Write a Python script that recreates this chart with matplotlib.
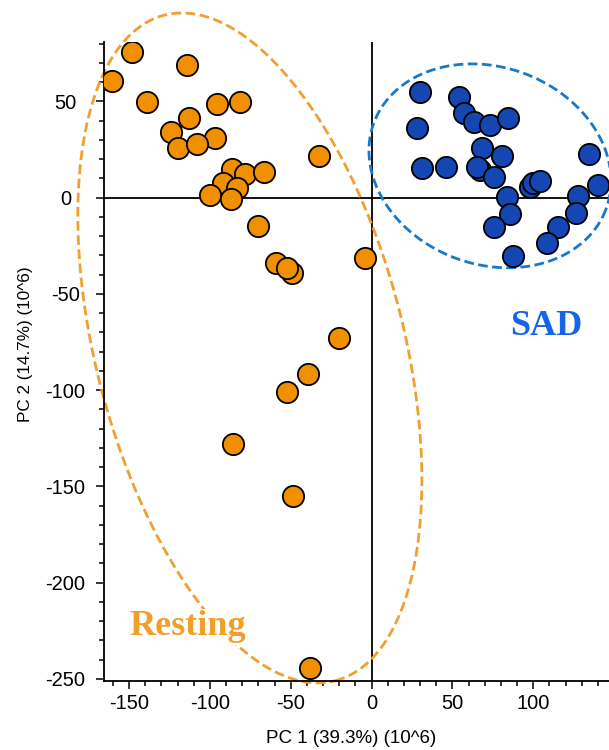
import numpy as np
import matplotlib.pyplot as plt
from matplotlib.ticker import MultipleLocator

plt.rcParams['axes.unicode_minus'] = False

# PCA scores (10^6)
resting_pc1 = [-147.9, -160.3, -113.9, -139.0, -95.7, -81.7, -113.1, -123.8, -96.8, -119.7,
               -107.7, -32.4, -86.3, -78.4, -66.6, -91.8, -83.5, -99.9, -87.1, -70.5,
               -59.0, -49.5, -52.4, -4.1, -20.2, -39.6, -52.6, -85.6, -48.5, -38.4]
resting_pc2 = [75.8, 60.6, 68.9, 49.5, 48.7, 49.5, 41.2, 34.3, 31.2, 26.0,
               27.7, 21.8, 14.9, 12.2, 13.2, 7.6, 4.9, 1.4, -0.7, -14.5,
               -34.1, -39.3, -36.7, -31.3, -72.7, -91.4, -100.8, -127.8, -154.8, -244.3]

sad_pc1 = [30.1, 54.2, 57.1, 63.1, 73.4, 84.3, 28.0, 68.3, 80.4, 31.1,
           46.0, 67.0, 65.2, 75.5, 98.1, 100.0, 104.3, 134.7, 139.9, 127.9,
           83.5, 85.4, 126.6, 75.5, 115.5, 108.5, 87.4]
sad_pc2 = [54.9, 52.3, 43.8, 39.5, 37.9, 41.2, 36.2, 25.7, 21.8, 15.4,
           15.9, 14.4, 16.1, 10.8, 5.7, 7.5, 8.6, 22.9, 6.8, 1.0,
           0.5, -8.6, -7.8, -15.2, -15.2, -23.7, -30.6]

# group ellipses: centre, first and second half-axis vectors
resting_center = (-75.3, -78.1)
resting_u = (52.9, -172.9)
resting_v = (92.3, 19.9)
sad_center = (73.2, 16.5)
sad_u = (71.7, -22.6)
sad_v = (-21.5, -47.9)

orange = '#F09000'
blue = '#1447B4'

fig = plt.figure(figsize=(6.09, 7.5), dpi=100)
ax = fig.add_axes([104 / 609, 69.3 / 750, 1 - 104 / 609, (680.7 - 41.7) / 750])

ax.axhline(0, color='black', lw=1.3, zorder=1)
ax.axvline(0, color='black', lw=1.3, zorder=1)

t = np.linspace(0, 2 * np.pi, 400)
for c, u, v, col in [(resting_center, resting_u, resting_v, '#F0A030'),
                     (sad_center, sad_u, sad_v, '#1A78C8')]:
    ex = c[0] + u[0] * np.cos(t) + v[0] * np.sin(t)
    ey = c[1] + u[1] * np.cos(t) + v[1] * np.sin(t)
    ax.plot(ex, ey, color=col, lw=2, ls=(0, (3.5, 1.6)), zorder=2, clip_on=False)

ax.scatter(resting_pc1, resting_pc2, s=235, c=orange, edgecolors='black', linewidths=1.3, zorder=3)
ax.scatter(sad_pc1, sad_pc2, s=235, c=blue, edgecolors='black', linewidths=1.3, zorder=3)

ax.text(-114, -223, 'Resting', color='#F0A02A', fontsize=26, fontweight='bold',
        family='Liberation Serif', ha='center', va='center', zorder=4,
        bbox=dict(facecolor='white', edgecolor='none', pad=1))
ax.text(108, -67, 'SAD', color='#1565E8', fontsize=26, fontweight='bold',
        family='Liberation Serif', ha='center', va='center', zorder=4)

ax.set_xlim(-165.5, 146.8)
ax.set_ylim(-251, 81)
ax.xaxis.set_major_locator(MultipleLocator(50))
ax.xaxis.set_minor_locator(MultipleLocator(10))
ax.yaxis.set_major_locator(MultipleLocator(50))
ax.yaxis.set_minor_locator(MultipleLocator(10))
ax.tick_params(which='major', direction='out', length=6, width=1.1, labelsize=14.5)
ax.tick_params(which='minor', direction='out', length=3.5, width=1.1)
ax.tick_params(axis='y', which='major', pad=21.7)
for side in ['top', 'right']:
    ax.spines[side].set_visible(False)
for side in ['left', 'bottom']:
    ax.spines[side].set_linewidth(1.3)
for lab in ax.get_xticklabels() + ax.get_yticklabels():
    lab.set_family('Liberation Sans')
for lab in ax.get_yticklabels():
    lab.set_horizontalalignment('center')

ax.set_xlabel('PC 1 (39.3%) (10^6)', fontsize=13.5, family='Liberation Sans')
ax.set_ylabel('PC 2 (14.7%) (10^6)', fontsize=12.3, family='Liberation Sans')
ax.xaxis.set_label_coords(0.49, -0.077)
ax.yaxis.set_label_coords(-0.141, 0.527)

fig.savefig('out.png', dpi=100)
